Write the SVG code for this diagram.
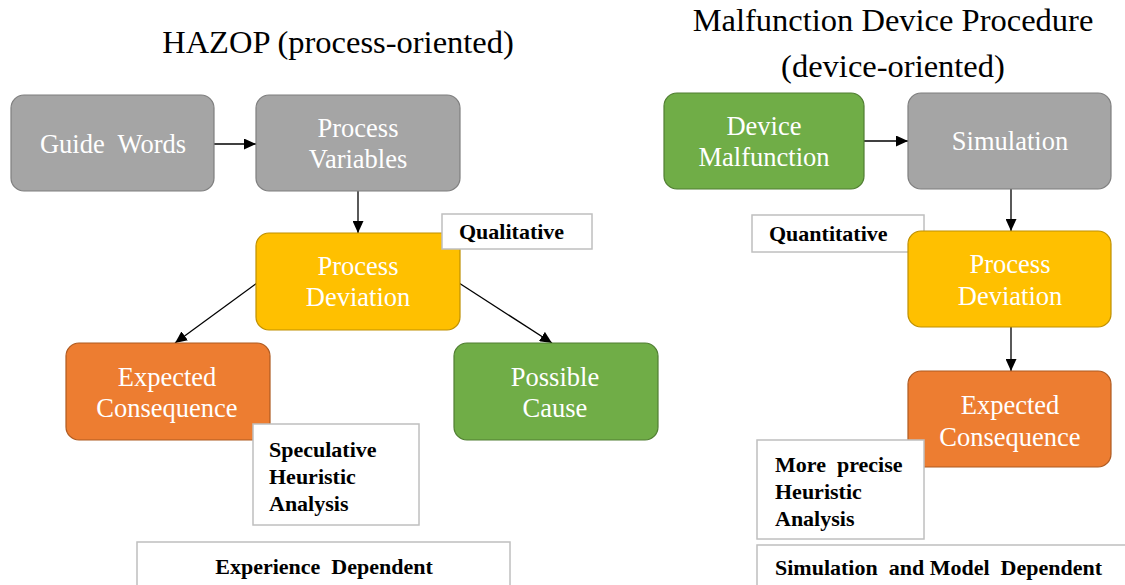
<svg xmlns="http://www.w3.org/2000/svg" width="1125" height="585" viewBox="0 0 1125 585">
<style>
text{font-family:"Liberation Serif","Times New Roman",Times,"DejaVu Serif",serif}
.title{font-size:32.5px;fill:#000;text-anchor:middle}
.nt{font-size:26.5px;fill:#fff;text-anchor:middle}
.lt{font-size:22px;font-weight:bold;fill:#000}
.gray{fill:#a5a5a5;stroke:#7f7f7f;stroke-width:1.2}
.yel{fill:#ffc000;stroke:#bf9000;stroke-width:1.2}
.org{fill:#ed7d31;stroke:#ae5a21;stroke-width:1.2}
.grn{fill:#70ad47;stroke:#507e32;stroke-width:1.2}
.lbl{fill:#fff;stroke:#bfbfbf;stroke-width:1.5}
.con{stroke:#000;stroke-width:1.3;fill:none;marker-end:url(#ah)}
</style>
<defs>
<marker id="ah" viewBox="0 0 12 11" refX="12" refY="5.5" markerWidth="12" markerHeight="11" markerUnits="userSpaceOnUse" orient="auto">
<path d="M0,0 L12,5.5 L0,11 z" fill="#000"/>
</marker>
</defs>
<rect width="1125" height="585" fill="#fff"/>
<text class="title" x="338" y="53">HAZOP (process-oriented)</text>
<text class="title" x="893" y="31">Malfunction Device Procedure</text>
<text class="title" x="893" y="77">(device-oriented)</text>

<g id="connectors">
<line class="con" x1="214" y1="144" x2="256" y2="144"/>
<line class="con" x1="358" y1="191" x2="358" y2="233"/>
<line class="con" x1="257" y1="283" x2="175" y2="343"/>
<line class="con" x1="459" y1="283" x2="552" y2="343"/>
<line class="con" x1="864" y1="141" x2="908" y2="141"/>
<line class="con" x1="1011" y1="189" x2="1011" y2="231"/>
<line class="con" x1="1011" y1="327" x2="1011" y2="371"/>
</g>

<g id="guide-words">
<rect class="gray" x="11" y="95" width="203" height="96" rx="13"/>
<text class="nt" x="113" y="153" xml:space="preserve">Guide  Words</text>
</g>
<g id="process-variables">
<rect class="gray" x="256" y="95" width="204" height="96" rx="13"/>
<text class="nt" x="358" y="137">Process</text>
<text class="nt" x="358" y="168">Variables</text>
</g>
<g id="process-deviation-l">
<rect class="yel" x="256" y="233" width="204" height="97" rx="13"/>
<text class="nt" x="358" y="275">Process</text>
<text class="nt" x="358" y="306">Deviation</text>
</g>
<g id="qualitative">
<rect class="lbl" x="442" y="214" width="150" height="35"/>
<text class="lt" x="459" y="239">Qualitative</text>
</g>
<g id="expected-consequence-l">
<rect class="org" x="66" y="343" width="204" height="97" rx="13"/>
<text class="nt" x="167" y="386">Expected</text>
<text class="nt" x="167" y="417">Consequence</text>
</g>
<g id="possible-cause">
<rect class="grn" x="454" y="343" width="204" height="97" rx="13"/>
<text class="nt" x="555" y="386">Possible</text>
<text class="nt" x="555" y="417">Cause</text>
</g>
<g id="speculative">
<rect class="lbl" x="253" y="424" width="166" height="101"/>
<text class="lt" x="269" y="457">Speculative</text>
<text class="lt" x="269" y="484">Heuristic</text>
<text class="lt" x="269" y="511">Analysis</text>
</g>
<g id="experience">
<rect class="lbl" x="137" y="542" width="373" height="50"/>
<text class="lt" x="324" y="574" text-anchor="middle" xml:space="preserve">Experience  Dependent</text>
</g>

<g id="device-malfunction">
<rect class="grn" x="664" y="93" width="200" height="96" rx="13"/>
<text class="nt" x="764" y="135">Device</text>
<text class="nt" x="764" y="166">Malfunction</text>
</g>
<g id="simulation">
<rect class="gray" x="908" y="93" width="203" height="96" rx="13"/>
<text class="nt" x="1010" y="150">Simulation</text>
</g>
<g id="quantitative">
<rect class="lbl" x="752" y="215" width="172" height="37"/>
<text class="lt" x="769" y="241">Quantitative</text>
</g>
<g id="process-deviation-r">
<rect class="yel" x="908" y="231" width="203" height="96" rx="13"/>
<text class="nt" x="1010" y="273">Process</text>
<text class="nt" x="1010" y="305">Deviation</text>
</g>
<g id="expected-consequence-r">
<rect class="org" x="908" y="371" width="203" height="96" rx="13"/>
<text class="nt" x="1010" y="414">Expected</text>
<text class="nt" x="1010" y="446">Consequence</text>
</g>
<g id="more-precise">
<rect class="lbl" x="757" y="440" width="167" height="99"/>
<text class="lt" x="775" y="472" xml:space="preserve">More  precise</text>
<text class="lt" x="775" y="499">Heuristic</text>
<text class="lt" x="775" y="526">Analysis</text>
</g>
<g id="simulation-model">
<rect class="lbl" x="757" y="545" width="380" height="50"/>
<text class="lt" x="775" y="575" xml:space="preserve">Simulation  and Model  Dependent</text>
</g>
</svg>
